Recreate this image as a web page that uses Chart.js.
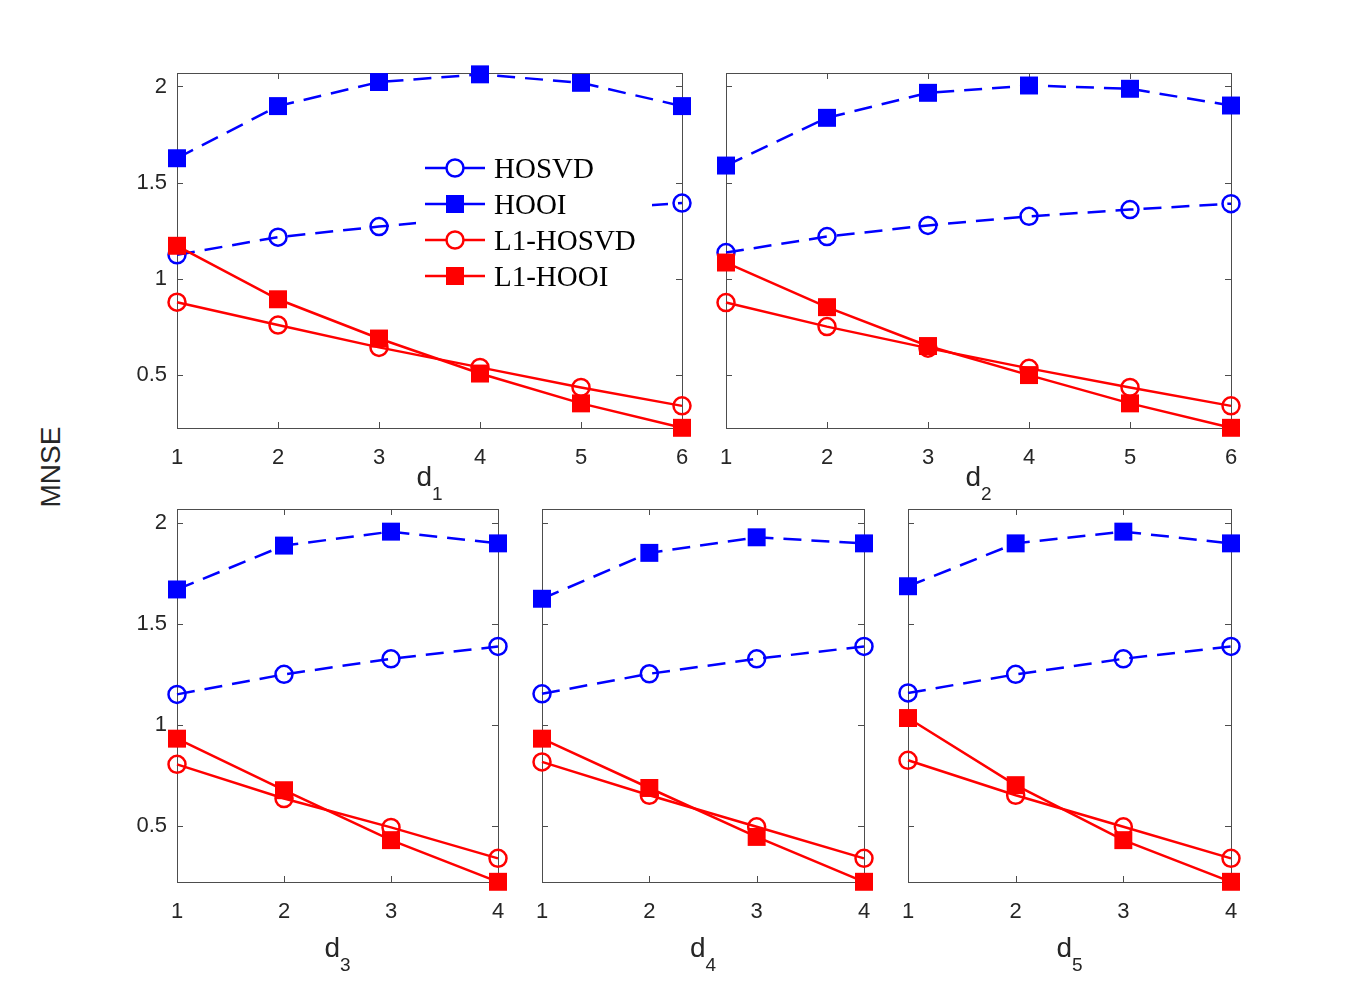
<!DOCTYPE html>
<html><head><meta charset="utf-8">
<script src="https://cdn.jsdelivr.net/npm/chart.js@4/dist/chart.umd.min.js"></script>
<style>
html,body{margin:0;padding:0;background:#fff;width:1361px;height:992px;overflow:hidden}
#wrap{position:relative;width:1361px;height:992px;background:#fff}
canvas{position:absolute}
#ylab{position:absolute;left:51px;top:467px;transform:translate(-50%,-50%) rotate(-90deg);font:28px "Liberation Sans",Arial,sans-serif;color:#262626;white-space:nowrap}
</style></head><body>
<div id="wrap"><div id="ylab">MNSE</div></div>
<script>
// ---------- data ----------
const seriesNames = ['HOSVD', 'HOOI', 'L1-HOSVD', 'L1-HOOI'];
const xTop = [1, 2, 3, 4, 5, 6];
const xBottom = [1, 2, 3, 4];
const yTicks = [0.5, 1, 1.5, 2];
const yTickLabels = ['0.5', '1', '1.5', '2'];
const yMin = 0.225, yMax = 2.07;
const xLabelSubs = ['1', '2', '3', '4', '5'];

const d1HOSVD   = [1.125, 1.217, 1.272, 1.320, 1.360, 1.394];
const d1HOOI    = [1.627, 1.898, 2.023, 2.063, 2.019, 1.898];
const d1L1HOSVD = [0.879, 0.760, 0.644, 0.540, 0.436, 0.340];
const d1L1HOOI  = [1.172, 0.894, 0.690, 0.508, 0.353, 0.226];

const d2HOSVD   = [1.137, 1.220, 1.278, 1.325, 1.360, 1.391];
const d2HOOI    = [1.589, 1.837, 1.967, 2.005, 1.988, 1.901];
const d2L1HOSVD = [0.877, 0.752, 0.640, 0.535, 0.436, 0.340];
const d2L1HOOI  = [1.085, 0.853, 0.651, 0.500, 0.353, 0.226];

const d3HOSVD   = [1.153, 1.252, 1.329, 1.390];
const d3HOOI    = [1.672, 1.889, 1.958, 1.900];
const d3L1HOSVD = [0.807, 0.638, 0.495, 0.342];
const d3L1HOOI  = [0.934, 0.679, 0.432, 0.226];

const d4HOSVD   = [1.156, 1.255, 1.329, 1.390];
const d4HOOI    = [1.626, 1.853, 1.930, 1.900];
const d4L1HOSVD = [0.819, 0.654, 0.498, 0.342];
const d4L1HOOI  = [0.934, 0.690, 0.448, 0.226];

const d5HOSVD   = [1.160, 1.252, 1.329, 1.390];
const d5HOOI    = [1.688, 1.900, 1.958, 1.900];
const d5L1HOSVD = [0.827, 0.654, 0.498, 0.342];
const d5L1HOOI  = [1.036, 0.704, 0.432, 0.226];

// ---------- layout / style ----------
const ML = 70, MR = 22, MT = 15, MB = 95;
const SANS = '"Liberation Sans", Arial, Helvetica, sans-serif';
const SERIF = '"Liberation Serif", "Times New Roman", serif';
const TXT = '#262626';
const BLUE = '#0000ff', RED = '#ff0000';
const styles = [
  {color: BLUE, dash: [18, 10], marker: 'circle', filled: false},
  {color: BLUE, dash: [18, 10], marker: 'rect', filled: true},
  {color: RED, dash: [], marker: 'circle', filled: false},
  {color: RED, dash: [], marker: 'rect', filled: true}
];

const panels = [
  {xs: xTop, series: [d1HOSVD, d1HOOI, d1L1HOSVD, d1L1HOOI], box: {l: 177, t: 73, r: 682, b: 428}, showY: true, sub: xLabelSubs[0], lblOff: 58, legend: true},
  {xs: xTop, series: [d2HOSVD, d2HOOI, d2L1HOSVD, d2L1HOOI], box: {l: 726, t: 73, r: 1231, b: 428}, showY: false, sub: xLabelSubs[1], lblOff: 58},
  {xs: xBottom, series: [d3HOSVD, d3HOOI, d3L1HOSVD, d3L1HOOI], box: {l: 177, t: 509, r: 498, b: 882}, showY: true, sub: xLabelSubs[2], lblOff: 75},
  {xs: xBottom, series: [d4HOSVD, d4HOOI, d4L1HOSVD, d4L1HOOI], box: {l: 542, t: 509, r: 864, b: 882}, showY: false, sub: xLabelSubs[3], lblOff: 75},
  {xs: xBottom, series: [d5HOSVD, d5HOOI, d5L1HOSVD, d5L1HOOI], box: {l: 908, t: 509, r: 1231, b: 882}, showY: false, sub: xLabelSubs[4], lblOff: 75}
];

function drawMarker(ctx, kind, x, y, color) {
  ctx.save();
  if (kind === 'circle') {
    ctx.strokeStyle = color; ctx.lineWidth = 2.5;
    ctx.beginPath(); ctx.arc(x, y, 8.5, 0, Math.PI * 2); ctx.stroke();
  } else {
    ctx.fillStyle = color;
    ctx.fillRect(x - 9, y - 9, 18, 18);
  }
  ctx.restore();
}

const matlabAxes = {
  id: 'matlabAxes',
  beforeDatasetsDraw(chart, args, o) {
    const {ctx, chartArea: a, scales: {x, y}} = chart;
    ctx.save();
    ctx.strokeStyle = '#4d4d4d';
    ctx.lineWidth = 1;
    ctx.strokeRect(Math.round(a.left) + 0.5, Math.round(a.top) + 0.5, Math.round(a.right - a.left), Math.round(a.bottom - a.top));
    const tl = 6;
    ctx.beginPath();
    x.ticks.forEach(t => {
      const px = Math.round(x.getPixelForValue(t.value)) + 0.5;
      ctx.moveTo(px, a.bottom); ctx.lineTo(px, a.bottom - tl);
      ctx.moveTo(px, a.top); ctx.lineTo(px, a.top + tl);
    });
    y.ticks.forEach(t => {
      const py = Math.round(y.getPixelForValue(t.value)) + 0.5;
      ctx.moveTo(a.left, py); ctx.lineTo(a.left + tl, py);
      ctx.moveTo(a.right, py); ctx.lineTo(a.right - tl, py);
    });
    ctx.stroke();
    // x label "d" with subscript
    const cx = (a.left + a.right) / 2;
    ctx.fillStyle = TXT;
    ctx.textBaseline = 'alphabetic';
    ctx.font = '28px ' + SANS;
    const wd = ctx.measureText('d').width;
    ctx.font = '19px ' + SANS;
    const ws = ctx.measureText(o.sub).width;
    const gap = 0;
    const x0 = cx - (wd + gap + ws) / 2;
    const base = a.bottom + o.lblOff;
    ctx.font = '28px ' + SANS;
    ctx.textAlign = 'left';
    ctx.fillText('d', x0, base);
    ctx.font = '19px ' + SANS;
    ctx.fillText(o.sub, x0 + wd + gap, base + 14);
    ctx.restore();
  },
  afterDatasetsDraw(chart, args, o) {
    if (!o.legend) return;
    const ctx = chart.ctx;
    const ox = o.originX, oy = o.originY;
    ctx.save();
    ctx.fillStyle = '#fff';
    ctx.fillRect(416 - ox, 147 - oy, 236, 148);
    const rows = [168, 204, 240, 276];
    seriesNames.forEach((name, i) => {
      const st = styles[i];
      const yy = rows[i] - oy;
      ctx.strokeStyle = st.color; ctx.lineWidth = 2.5; ctx.setLineDash([]);
      ctx.beginPath(); ctx.moveTo(425 - ox, yy); ctx.lineTo(485 - ox, yy); ctx.stroke();
      if (st.marker === 'circle') {
        ctx.fillStyle = '#fff';
        ctx.beginPath(); ctx.arc(455 - ox, yy, 8.5, 0, Math.PI * 2); ctx.fill();
      }
      drawMarker(ctx, st.marker, 455 - ox, yy, st.color);
      ctx.fillStyle = '#000';
      ctx.font = '29px ' + SERIF;
      ctx.textAlign = 'left';
      ctx.textBaseline = 'alphabetic';
      ctx.fillText(name, 494 - ox, yy + 10);
    });
    ctx.restore();
  }
};

const wrap = document.getElementById('wrap');
panels.forEach((p, idx) => {
  const cv = document.createElement('canvas');
  const left = p.box.l - ML, top = p.box.t - MT;
  const w = p.box.r - p.box.l + ML + MR, h = p.box.b - p.box.t + MT + MB;
  cv.width = w; cv.height = h;
  cv.style.left = left + 'px'; cv.style.top = top + 'px';
  cv.style.width = w + 'px'; cv.style.height = h + 'px';
  wrap.appendChild(cv);
  const datasets = p.series.map((vals, i) => {
    const st = styles[i];
    return {
      label: seriesNames[i],
      data: p.xs.map((xv, k) => ({x: xv, y: vals[k]})),
      borderColor: st.color,
      backgroundColor: st.color,
      borderWidth: 2.5,
      borderDash: st.dash,
      pointStyle: st.marker,
      pointRadius: st.marker === 'circle' ? 8.5 : 12.7,
      pointBorderWidth: st.marker === 'circle' ? 2.5 : 0,
      pointBackgroundColor: st.filled ? st.color : 'rgba(0,0,0,0)',
      pointBorderColor: st.color,
      pointHoverRadius: 0,
      tension: 0,
      fill: false,
      clip: false,
      order: 3 - i
    };
  });
  new Chart(cv, {
    type: 'line',
    data: {datasets},
    plugins: [matlabAxes],
    options: {
      responsive: false,
      animation: false,
      devicePixelRatio: 1,
      layout: {padding: {top: MT, right: MR, left: 0, bottom: 0}, autoPadding: false},
      plugins: {
        legend: {display: false},
        tooltip: {enabled: false},
        matlabAxes: {sub: p.sub, lblOff: p.lblOff, legend: !!p.legend, originX: left, originY: top}
      },
      scales: {
        x: {
          type: 'linear', min: p.xs[0], max: p.xs[p.xs.length - 1],
          afterBuildTicks: s => { s.ticks = p.xs.map(v => ({value: v})); },
          afterFit: s => { s.height = MB; s.paddingLeft = 0; s.paddingRight = 0; },
          grid: {display: false, drawTicks: false}, border: {display: false},
          ticks: {color: TXT, font: {family: SANS, size: 22}, padding: 17, maxRotation: 0, autoSkip: false}
        },
        y: {
          type: 'linear', min: yMin, max: yMax,
          afterBuildTicks: s => { s.ticks = yTicks.map(v => ({value: v})); },
          afterFit: s => { s.width = ML; s.paddingTop = 0; s.paddingBottom = 0; },
          grid: {display: false, drawTicks: false}, border: {display: false},
          ticks: {display: p.showY, color: TXT, font: {family: SANS, size: 22}, padding: 10,
                  callback: (v, i) => yTickLabels[i]}
        }
      }
    }
  });
});
</script>
</body></html>
